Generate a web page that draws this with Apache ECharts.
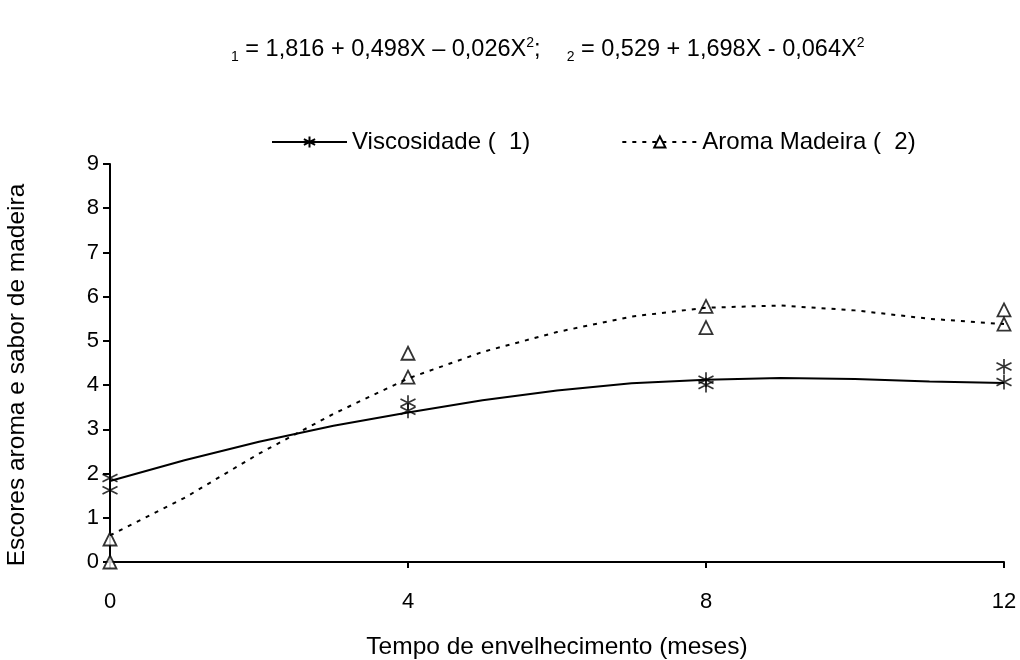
<!DOCTYPE html>
<html>
<head>
<meta charset="utf-8">
<script src="https://cdn.jsdelivr.net/npm/echarts@6/dist/echarts.min.js"></script>
<style>
html,body{margin:0;padding:0;background:#fff;}
#chart{width:1020px;height:660px;}
</style>
</head>
<body>
<div id="chart"></div>
<script>
// Fitted curves, read at each month
const months = [0,1,2,3,4,5,6,7,8,9,10,11,12];
const viscFit  = [1.83, 2.30, 2.72, 3.08, 3.38, 3.66, 3.88, 4.04, 4.12, 4.16, 4.14, 4.08, 4.05];
const aromaFit = [0.60, 1.45, 2.45, 3.35, 4.15, 4.75, 5.20, 5.55, 5.75, 5.80, 5.69, 5.50, 5.38];
// Observed points
const viscObsX  = [0, 0, 4, 4, 8, 8, 12, 12];
const viscObsY  = [1.90, 1.62, 3.60, 3.42, 4.12, 4.00, 4.42, 4.07];
const aromaObsX = [0, 0, 4, 4, 8, 8, 12, 12];
const aromaObsY = [0.52, 0.00, 4.72, 4.18, 5.78, 5.30, 5.70, 5.38];
const xTicks = [0, 4, 8, 12];
const seriesNames = ['Viscosidade (  1)', 'Aroma Madeira (  2)'];

const starPath = 'path://M0,-1L0,1M-0.87,-0.5L0.87,0.5M-0.87,0.5L0.87,-0.5';
const pair = (xs, ys) => xs.map((x, i) => [x, ys[i]]);

const chart = echarts.init(document.getElementById('chart'), null, {renderer:'canvas'});
const font = 'Liberation Sans, Arial, sans-serif';
chart.setOption({
  animation: false,
  backgroundColor: '#fff',
  textStyle: {fontFamily: font, color: '#000'},
  title: {
    text: '{s|1}{t| = 1,816 + 0,498X – 0,026X}{p|2}{t|;    }{s|2}{t| = 0,529 + 1,698X - 0,064X}{p|2}',
    left: 226,
    top: 31,
    textStyle: {
      fontWeight: 'normal',
      rich: {
        t: {fontSize: 23.5, lineHeight: 28, color: '#000', fontFamily: font, fontWeight: 'normal'},
        s: {fontSize: 14, lineHeight: 28, color: '#000', fontFamily: font, fontWeight: 'normal', verticalAlign: 'bottom'},
        p: {fontSize: 14, lineHeight: 28, color: '#000', fontFamily: font, fontWeight: 'normal', verticalAlign: 'top'}
      }
    }
  },
  legend: {
    left: 266,
    top: 125,
    itemWidth: 75,
    itemHeight: 14,
    itemGap: 91,
    textStyle: {fontSize: 24, color: '#000', fontFamily: font},
    data: seriesNames
  },
  grid: {left: 110, right: 16, top: 164, bottom: 98, outerBoundsMode: 'none', containLabel: false},
  xAxis: {
    type: 'value', min: 0, max: 12, interval: 4,
    axisLine: {lineStyle: {color: '#000', width: 2}},
    axisTick: {length: 6, lineStyle: {color: '#000', width: 2}},
    axisLabel: {fontSize: 22, color: '#000', margin: 29, fontFamily: font,
      formatter: v => xTicks.includes(v) ? String(v) : ''},
    splitLine: {show: false},
    name: 'Tempo de envelhecimento (meses)',
    nameLocation: 'middle', nameGap: 73,
    nameTextStyle: {fontSize: 24.5, color: '#000', fontFamily: font}
  },
  yAxis: {
    type: 'value', min: 0, max: 9, interval: 1,
    axisLine: {show: true, lineStyle: {color: '#000', width: 2}},
    axisTick: {show: true, length: 7, lineStyle: {color: '#000', width: 2}},
    axisLabel: {fontSize: 22, color: '#000', margin: 11, fontFamily: font},
    splitLine: {show: false},
    name: 'Escores aroma e sabor de madeira',
    nameLocation: 'middle', nameGap: 80,
    nameTextStyle: {fontSize: 24.5, color: '#000', fontFamily: font, padding: [0, 24, 0, 0]}
  },
  series: [
    {
      name: seriesNames[0], type: 'line',
      data: pair(months, viscFit),
      symbol: starPath, symbolSize: 15, showSymbol: false,
      itemStyle: {color: '#000', borderColor: '#000', borderWidth: 1.7},
      lineStyle: {color: '#000', width: 2}
    },
    {
      name: seriesNames[1], type: 'line',
      data: pair(months, aromaFit),
      symbol: 'triangle', symbolSize: 13, showSymbol: false,
      itemStyle: {color: '#fff', borderColor: '#000', borderWidth: 1.8},
      lineStyle: {color: '#000', width: 2, type: [4, 6]}
    },
    {
      name: seriesNames[0], type: 'scatter', clip: false,
      data: pair(viscObsX, viscObsY),
      symbol: starPath, symbolSize: 15,
      itemStyle: {color: '#000', borderColor: '#000', borderWidth: 1.7}
    },
    {
      name: seriesNames[1], type: 'scatter', clip: false,
      data: pair(aromaObsX, aromaObsY),
      symbol: 'triangle', symbolSize: 13,
      itemStyle: {color: '#fff', borderColor: '#000', borderWidth: 1.8}
    }
  ]
});
</script>
</body>
</html>
